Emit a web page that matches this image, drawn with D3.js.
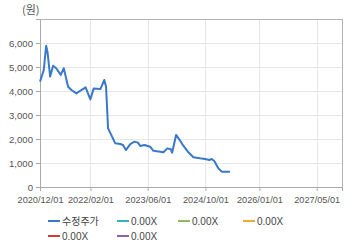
<!DOCTYPE html>
<html>
<head>
<meta charset="utf-8">
<script src="https://cdn.jsdelivr.net/npm/d3@7"></script>
<style>
  body { margin: 0; background: #fff; }
  text { font-family: "Liberation Sans", Arial, sans-serif; }
</style>
</head>
<body>
<svg id="chart" width="360" height="248"></svg>
<script>
// data
var dates = ["2020-12-01","2021-01-02","2021-01-22","2021-02-02","2021-02-25","2021-03-22","2021-04-19",
  "2021-05-26","2021-06-20","2021-07-27","2021-08-24","2021-10-05","2021-11-16","2021-12-22","2022-01-31",
  "2022-02-28","2022-04-26","2022-05-29","2022-06-13","2022-06-30","2022-07-27","2022-08-30","2022-10-11",
  "2022-11-03","2022-11-28","2023-01-04","2023-02-09","2023-03-10","2023-03-29","2023-05-04","2023-06-21",
  "2023-07-19","2023-09-14","2023-10-12","2023-11-14","2023-12-13","2023-12-24","2024-01-27","2024-03-01",
  "2024-03-28","2024-05-10","2024-06-21","2024-08-16","2024-09-28","2024-11-03","2024-11-23","2024-12-15",
  "2025-01-18","2025-02-16","2025-04-27"];
var prices = [4390,4875,5890,5640,4600,5050,4940,
  4670,4950,4180,4040,3900,4040,4150,3650,
  4100,4080,4460,4180,2445,2170,1820,1790,
  1750,1540,1790,1890,1850,1710,1750,1680,
  1510,1470,1445,1610,1570,1430,2170,1930,
  1720,1445,1240,1195,1170,1125,1170,1080,
  780,640,640];

var xTicks = ["2020-12-01","2022-02-01","2023-06-01","2024-10-01","2026-01-01","2027-05-01"];
var yTicks = [0,1000,2000,3000,4000,5000,6000];
var legendNames = ["수정주가","0.00X","0.00X","0.00X","0.00X","0.00X"];
var legendColors = ["#3a78c8","#2fb4bf","#8cbf5c","#efaa3c","#d23b36","#9160a8"];

var parse = d3.timeParse("%Y-%m-%d");
var fmt = d3.timeFormat("%Y/%m/%d");

var svg = d3.select("#chart"),
    margin = { top: 19, right: 18, bottom: 61, left: 40 },
    width = +svg.attr("width") - margin.left - margin.right,
    height = +svg.attr("height") - margin.top - margin.bottom,
    g = svg.append("g").attr("transform", "translate(" + margin.left + "," + margin.top + ")");

var x = d3.scaleTime()
    .domain([parse("2020-12-01"), parse("2027-12-01")])
    .range([0, width]);

var y = d3.scaleLinear()
    .domain([0, 7000])
    .range([height, 0]);

// grid
g.append("g").selectAll("line")
    .data(yTicks.slice(1))
    .enter().append("line")
    .attr("x1", 0).attr("x2", width)
    .attr("y1", function(d) { return Math.round(y(d)) + 0.5; })
    .attr("y2", function(d) { return Math.round(y(d)) + 0.5; })
    .attr("stroke", "#e6e6e6");

g.append("g").selectAll("line")
    .data(xTicks.slice(1))
    .enter().append("line")
    .attr("y1", 0).attr("y2", height)
    .attr("x1", function(d) { return Math.round(x(parse(d))) + 0.5; })
    .attr("x2", function(d) { return Math.round(x(parse(d))) + 0.5; })
    .attr("stroke", "#e6e6e6");

// frame
g.append("rect")
    .attr("x", 0.5).attr("y", 0.5)
    .attr("width", width).attr("height", height)
    .attr("fill", "none")
    .attr("stroke", "#b4b4b4");

var xAxis = g.append("g")
    .attr("transform", "translate(0," + height + ")")
    .call(d3.axisBottom(x).tickValues(xTicks.map(parse)).tickFormat(fmt).tickSize(4).tickPadding(5));

var yAxis = g.append("g")
    .call(d3.axisLeft(y).tickValues(yTicks).tickFormat(d3.format(",")).tickSize(4).tickPadding(3));

[xAxis, yAxis].forEach(function(a) {
    a.select(".domain").attr("stroke", "#aaa");
    a.selectAll(".tick line").attr("stroke", "#aaa");
    a.selectAll("text")
        .attr("fill", "#555")
        .style("font-family", "'Liberation Sans', Arial, sans-serif");
});
xAxis.selectAll("text").style("font-size", "9.2px");
yAxis.selectAll("text").style("font-size", "9.6px");

svg.append("text")
    .attr("x", 22).attr("y", 14)
    .attr("fill", "#555")
    .style("font-size", "11px")
    .style("font-family", "'Noto Sans CJK KR', sans-serif")
    .text("(원)");

// price line
var line = d3.line()
    .x(function(d, i) { return x(parse(dates[i])); })
    .y(function(d) { return y(d); });

g.append("path")
    .datum(prices)
    .attr("fill", "none")
    .attr("stroke", legendColors[0])
    .attr("stroke-width", 2)
    .attr("stroke-linejoin", "round")
    .attr("d", line);

// legend
var legendX = [48, 117, 178, 243];
var legend = svg.append("g").selectAll("g")
    .data(legendNames)
    .enter().append("g")
    .attr("transform", function(d, i) {
        return "translate(" + legendX[i % 4] + "," + (221 + Math.floor(i / 4) * 15) + ")";
    });

legend.append("line")
    .attr("x1", 0).attr("x2", 12)
    .attr("stroke", function(d, i) { return legendColors[i]; })
    .attr("stroke-width", 2);

legend.append("text")
    .attr("x", 14).attr("dy", "0.35em")
    .attr("fill", "#444")
    .style("font-size", "10px")
    .style("font-family", function(d, i) { return i == 0 ? "'Noto Sans CJK KR'" : "'Liberation Sans', Arial, sans-serif"; })
    .text(function(d) { return d; });
</script>
</body>
</html>
